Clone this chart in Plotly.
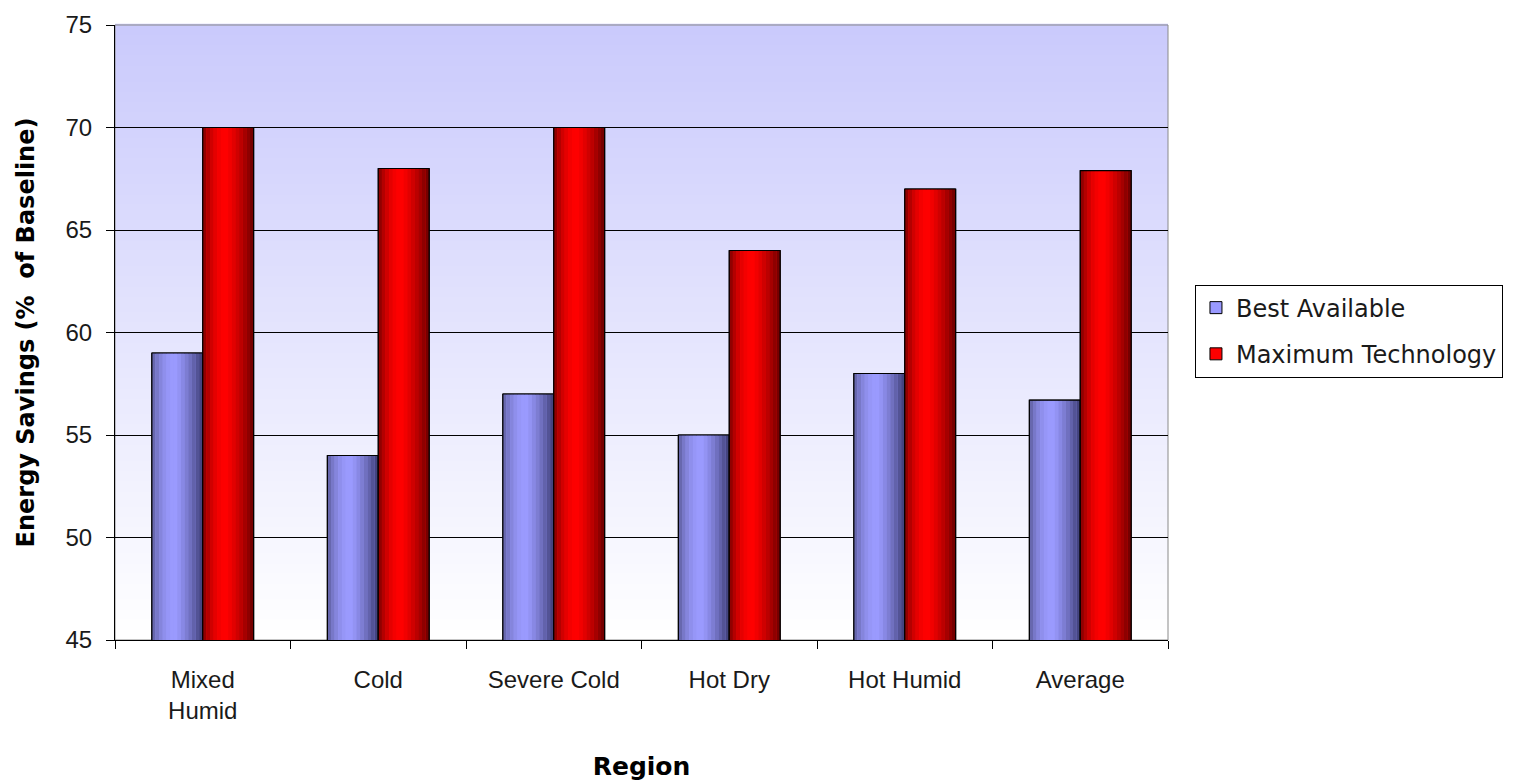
import plotly.graph_objects as go

regions = ["Mixed<br>Humid", "Cold", "Severe Cold", "Hot Dry", "Hot Humid", "Average"]
best_available = [59, 54, 57, 55, 58, 56.7]
maximum_technology = [70, 68, 70, 64, 67, 67.9]
y_ticks = [45, 50, 55, 60, 65, 70, 75]

fig = go.Figure()

BW = 0.29      # bar width in category units
NS = 14        # shading strips per bar


def shade(c_edge_l, c_peak, c_edge_r, t, peak=0.45):
    if t <= peak:
        f = t / peak
        f = 1 - (1 - f) ** 2
        a, b = c_edge_l, c_peak
    else:
        f = (t - peak) / (1 - peak)
        f = f ** 1.3
        a, b = c_peak, c_edge_r
    return "rgb(%d,%d,%d)" % tuple(round(a[i] + (b[i] - a[i]) * f) for i in range(3))


series = [
    ("Best Available", best_available, -BW, (95, 95, 160), (155, 155, 255), (60, 60, 115), "#9999ff"),
    ("Maximum Technology", maximum_technology, 0.0, (125, 0, 0), (255, 0, 0), (105, 0, 0), "#ff0000"),
]

for name, vals, off, cl, cp, cr, legc in series:
    fig.add_trace(go.Bar(x=regions, y=vals, name=name, offset=off, width=BW, legendgroup=name,
                         marker=dict(color=legc, line=dict(color="black", width=1)),
                         showlegend=True, hoverinfo="skip"))
    sw = BW / NS
    for k in range(NS):
        t = (k + 0.5) / NS
        fig.add_trace(go.Bar(x=regions, y=vals, offset=off + k * sw, width=sw * 1.02,
                             legendgroup=name,
                             marker=dict(color=shade(cl, cp, cr, t), line=dict(width=0)),
                             showlegend=False, hoverinfo="skip"))
    fig.add_trace(go.Bar(x=regions, y=vals, name=name, offset=off, width=BW, legendgroup=name,
                         marker=dict(color="rgba(0,0,0,0)", line=dict(color="black", width=1.2)),
                         showlegend=False))

# gradient plot background
NB = 120
shapes = []
for i in range(NB):
    f = i / (NB - 1)  # 0 bottom -> 1 top
    r = round(255 - (255 - 202) * f)
    g = round(255 - (255 - 202) * f)
    b = round(255 - (255 - 252) * f)
    shapes.append(dict(type="rect", xref="x domain", yref="y domain",
                       x0=0, x1=1, y0=i / NB, y1=(i + 1) / NB + 0.002,
                       fillcolor="rgb(%d,%d,%d)" % (r, g, b), line=dict(width=0),
                       layer="below"))
shapes.append(dict(type="rect", xref="x domain", yref="y domain", x0=0, x1=1, y0=0, y1=1,
                   line=dict(color="#8a8a8a", width=1), fillcolor="rgba(0,0,0,0)", layer="below"))

fig.update_layout(
    width=1524, height=782,
    margin=dict(l=115, r=356, t=25, b=142),
    paper_bgcolor="white", plot_bgcolor="white",
    barmode="overlay",
    shapes=shapes,
    font=dict(family="Liberation Sans, Arial, sans-serif", size=24, color="#1a1a1a"),
    legend=dict(x=1.0256, y=0.578, xanchor="left", yanchor="top",
                bordercolor="black", borderwidth=1, bgcolor="white",
                traceorder="grouped", tracegroupgap=12,
                font=dict(family="DejaVu Sans, Verdana, sans-serif", size=24, color="#1a1a1a"),
                itemwidth=30),
    xaxis=dict(showline=True, linecolor="black", linewidth=1, ticks="outside", ticklen=8,
               tickcolor="black", tickson="boundaries", showgrid=False, automargin=False,
               tickfont=dict(size=24), range=[-0.5, 5.5], ticklabelstandoff=18,
               title=dict(text="<b>Region</b>", standoff=34,
                          font=dict(family="DejaVu Sans, Verdana, sans-serif", size=25, color="black"))),
    yaxis=dict(range=[45, 75], tickvals=y_ticks, showline=True, linecolor="black", linewidth=1,
               ticks="outside", ticklen=8, tickcolor="black", showgrid=True, automargin=False,
               gridcolor="black", gridwidth=1, zeroline=False, tickfont=dict(size=24),
               ticklabelstandoff=9,
               title=dict(text="<b>Energy Savings (%  of Baseline)</b>", standoff=24,
                          font=dict(family="DejaVu Sans, Verdana, sans-serif", size=24, color="black"))),
)

fig.write_html("out.html", config={"displayModeBar": False},
               post_script="document.body.style.margin='0';document.body.style.overflow='hidden';")
